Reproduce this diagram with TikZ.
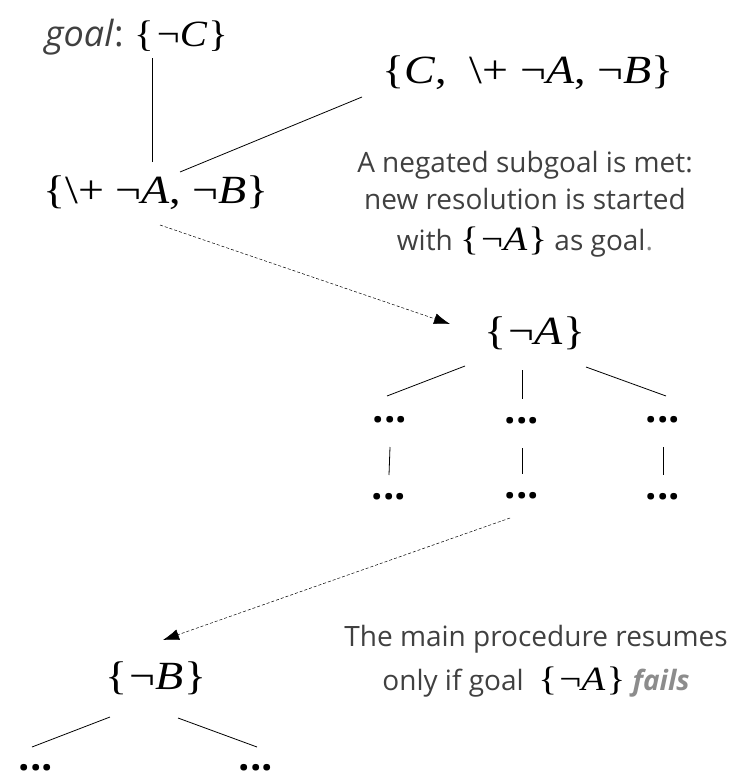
\documentclass[tikz,border=0pt]{standalone}
\usepackage{graphicx}
\usepackage{fontspec}
\setmainfont{Liberation Serif}
\newfontfamily\notefont{Open Sans}
\usetikzlibrary{positioning,calc,arrows.meta}
\definecolor{notegray}{HTML}{404040}
\definecolor{failgray}{HTML}{8C8C8C}
\newcommand{\negl}[1]{¬\textit{#1}}
\newcommand{\naf}{\textbackslash+}
\newcommand{\wide}[1]{\scalebox{1.15}[1]{#1}}
\newcommand{\lit}[1]{{\rmfamily\fontsize{34}{34}\selectfont\color{black}\wide{\{\kern2pt#1\kern1pt\}}}}

\begin{document}
\begin{tikzpicture}[x=1pt, y=-1pt,
    setnode/.style={inner sep=0pt, font=\fontsize{40}{44}\selectfont},
    note/.style={inner sep=0pt, text=notegray, align=center,
      font=\notefont\fontsize{28}{37}\selectfont},
    dots/.style={inner sep=0pt, font=\notefont\bfseries\fontsize{40}{40}\selectfont},
    edge/.style={line width=0.8pt},
    link/.style={line width=0.5pt, dash pattern=on 3pt off 2pt,
      -{Latex[length=16pt,width=11pt]}}]
    \clip (0,0) rectangle (750,776);

    % first resolution
    \node[setnode, font=\fontsize{37}{40}\selectfont] (nc) at (181,36)
        {\scalebox{1.1}[1]{\{\kern3pt\negl{C}\kern1pt\}}};
    \node[note, anchor=base east, font=\notefont\fontsize{36}{40}\selectfont]
        (goal) at ([xshift=-10pt]nc.base west) {\textit{goal}:};
    \node[setnode] (cab) at (528,73) {\wide{\{\textit{C},\ \ \naf\ \negl{A}, \negl{B}\}}};
    \node[setnode] (sub) at (156,193) {\wide{\{\naf\ \negl{A}, \negl{B}\}}};
    \draw[edge] ($(sub)+(-4,-31)$) -- ($(nc)+(-29,22)$);
    \draw[edge] ($(sub)+(24,-21)$) -- ($(cab)+(-166,24)$);

    \node[note] (met) at (525,204) {A negated subgoal is met:\\
        new resolution is started\\[4pt]
        with \lit{\negl{A}} as goal{\color{failgray}.}};

    % negated subgoal
    \node[setnode] (na) at (535,333) {\wide{\{\kern2pt\negl{A}\kern1pt\}}};
    \draw[link] ($(sub)+(4,32)$) -- ($(na)+(-85,-9)$);

    \node[dots] (d1) at (390,420) {...};
    \node[dots] (d2) at (522,421) {...};
    \node[dots] (d3) at (663,420) {...};
    \node[dots] (e1) at (389,497) {...};
    \node[dots] (e2) at (522,496) {...};
    \node[dots] (e3) at (663,497) {...};
    \draw[edge] ($(na)+(-70,33)$) -- ($(d1)+(-3,-24)$);
    \draw[edge] ($(na)+(-13,37)$) -- ($(d2)+(0,-22)$);
    \draw[edge] ($(na)+(51,34)$) -- ($(d3)+(3,-24)$);
    \foreach \a/\b in {d1/e1, d2/e2, d3/e3}
        \draw[edge] ($(\a)+(0,27)$) -- ($(\b)+(0,-22)$);

    % main procedure
    \node[setnode] (nb) at (156,678) {\wide{\{\kern2pt\negl{B}\kern1pt\}}};
    \draw[link] ($(e2)+(-12,22)$) -- ($(nb)+(7,-38)$);
    \node[note] (resume) at (536,661) {The main procedure resumes\\[7pt]
        only if goal\ \ \lit{\negl{A}}\ {\color{failgray}\bfseries\itshape fails}};

    \node[dots] (f1) at (36,768) {...};
    \node[dots] (f2) at (256,768) {...};
    \draw[edge] ($(nb)+(-46,39)$) -- ($(f1)+(-4,-21)$);
    \draw[edge] ($(nb)+(22,40)$) -- ($(f2)+(1,-21)$);
\end{tikzpicture}
\end{document}
